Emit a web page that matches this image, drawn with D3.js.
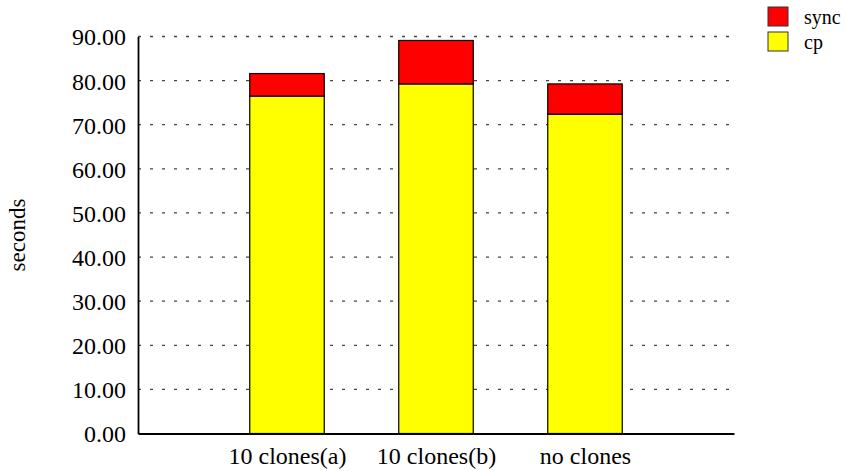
<!DOCTYPE html>
<html><head><meta charset="utf-8">
<script src="https://cdn.jsdelivr.net/npm/d3@7"></script>
<style>body{margin:0;background:#fff}svg{display:block}text{font-family:"Liberation Serif","Times New Roman",serif;fill:#000}</style>
</head><body><svg id="c" width="845" height="471"></svg>
<script>
const categories = ["10 clones(a)", "10 clones(b)", "no clones"];
const cp = [76.5, 79.25, 72.4];
const sync = [5.1, 9.85, 6.85];
const seriesNames = ["sync", "cp"];
const seriesColors = ["#ff0000", "#ffff00"];
const yTicks = [0, 10, 20, 30, 40, 50, 60, 70, 80, 90];

(function () {
const svg = d3.select("#c");
const mLeft = 138, mRight = 734, mTop = 36.5, mBottom = 433.5;
const x = d3.scaleLinear().domain([0, categories.length + 1]).range([mLeft, mRight]);
const y = d3.scaleLinear().domain([0, 90]).range([mBottom, mTop]);
const slot = x(1) - x(0);
const bw = slot / 2;

// gridlines
svg.append("g").selectAll("line").data(yTicks.filter(d => d > 0)).join("line")
  .attr("x1", mLeft).attr("x2", mRight).attr("y1", d => y(d)).attr("y2", d => y(d))
  .attr("stroke", "#444").attr("stroke-width", 1.3).attr("stroke-dasharray", "3,9");

// bars
const g = svg.append("g");
categories.forEach((c, i) => {
  const cx = x(i + 1);
  g.append("rect").attr("x", cx - bw / 2).attr("width", bw)
    .attr("y", y(cp[i])).attr("height", y(0) - y(cp[i]))
    .attr("fill", seriesColors[1]).attr("stroke", "#000").attr("stroke-width", 1.2);
  g.append("rect").attr("x", cx - bw / 2).attr("width", bw)
    .attr("y", y(cp[i] + sync[i])).attr("height", y(cp[i]) - y(cp[i] + sync[i]))
    .attr("fill", seriesColors[0]).attr("stroke", "#000").attr("stroke-width", 1.2);
});

// axes
const ya = svg.append("g").attr("transform", `translate(${mLeft},0)`)
  .call(d3.axisLeft(y).tickValues(yTicks).tickFormat(d3.format(".2f")).tickSize(0).tickPadding(12));
ya.select(".domain").attr("stroke", "#000").attr("stroke-width", 1.8);
ya.selectAll("text").attr("font-size", 24).attr("fill", "#000").attr("dy", "0.35em");

const xa = svg.append("g").attr("transform", `translate(0,${mBottom})`)
  .call(d3.axisBottom(x).tickValues(categories.map((c, i) => i + 1)).tickFormat((d) => categories[d - 1]).tickSize(0).tickPadding(13).tickSizeOuter(0));
xa.select(".domain").attr("stroke", "#000").attr("stroke-width", 1.8);
xa.selectAll("text").attr("font-size", 24).attr("fill", "#000");

svg.append("text").attr("transform", "translate(25,235) rotate(-90)")
  .attr("text-anchor", "middle").attr("font-size", 23).text("seconds");

// legend
const lg = svg.append("g");
seriesNames.forEach((s, i) => {
  lg.append("rect").attr("x", 768).attr("y", 7 + i * 25).attr("width", 20).attr("height", 19)
    .attr("fill", seriesColors[i]).attr("stroke", "#333").attr("stroke-width", 1);
  lg.append("text").attr("x", 804).attr("y", 16.5 + i * 25).attr("dy", "0.35em")
    .attr("font-size", 20).text(s);
});
})();
</script></body></html>
